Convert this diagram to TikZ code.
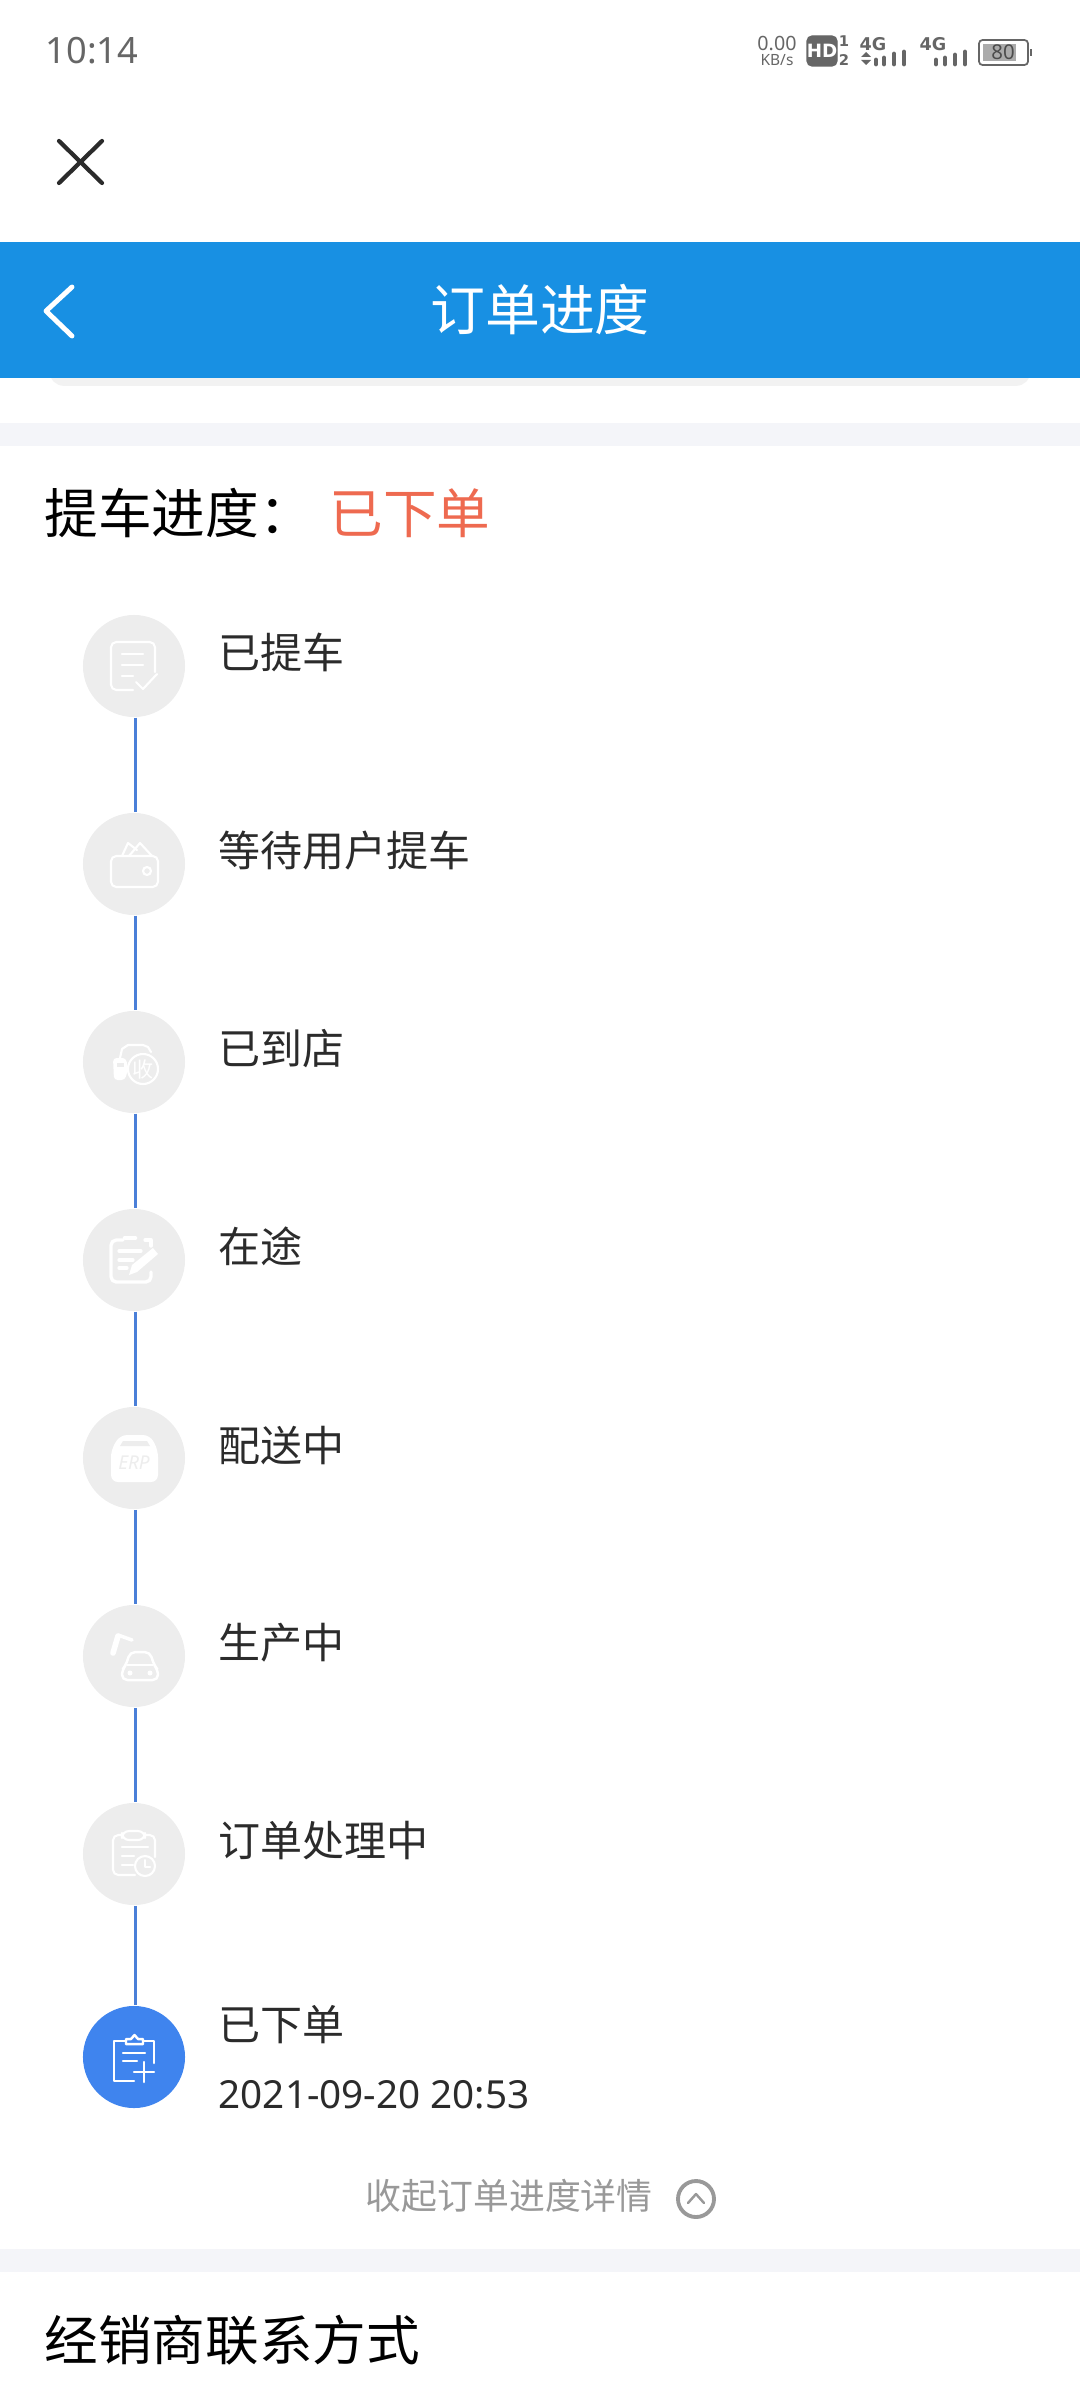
\documentclass[tikz,border=0pt]{standalone}
\usepackage{fontspec}
\setmainfont{Noto Sans CJK SC}
\newfontfamily\latinfont{Noto Sans}
\newfontfamily\statfont{DejaVu Sans}
\usetikzlibrary{calc}
\definecolor{barblue}{HTML}{1890E3}
\definecolor{lineblue}{HTML}{4A7FD8}
\definecolor{doneblue}{HTML}{3F84EE}
\definecolor{bandgray}{HTML}{F4F5F9}
\definecolor{circlegray}{HTML}{EDEDED}
\definecolor{statusgray}{HTML}{666666}
\definecolor{hintgray}{HTML}{999999}
\definecolor{orderred}{HTML}{EE6A50}
\definecolor{darktext}{HTML}{2B2B2B}
\tikzset{
  txt/.style = {inner sep = 0pt, anchor = west},
  steptext/.style = {txt, text = darktext, font = \fontsize{11.95}{14}\selectfont},
  headtext/.style = {txt, text = black, font = \fontsize{15.25}{18}\selectfont},
  stat/.style = {inner sep = 0pt, text = statusgray},
  stepcircle/.style = {circle, fill = circlegray, minimum size = 1.02cm, inner sep = 0pt},
  stepline/.style = {lineblue, line width = 0.9pt},
  icon/.style = {white, line width = 0.6pt, line cap = round, line join = round},
  thickicon/.style = {icon, line width = 0.95pt},
  sigbar/.style = {statusgray, line width = 1.4pt, line cap = round}
}

\begin{document}
\begin{tikzpicture}[x = 0.01cm, y = -0.01cm]
\useasboundingbox (0,0) rectangle (1080,2400);
% status bar
\node (clock) [stat] at (92,51) {\latinfont\fontsize{10.3}{12}\selectfont 10:14};
\node (speed) [stat] at (777,44) {\latinfont\fontsize{5.6}{7}\selectfont 0.00};
\node (speedunit) [stat] at (777,60) {\latinfont\fontsize{4.4}{6}\selectfont KB/s};
\draw [fill = statusgray, statusgray, rounded corners = 1.5pt] (807,36) rectangle (837,66);
\node (hd) [stat, text = white] at (822,51) {\statfont\bfseries\fontsize{5.2}{6}\selectfont HD};
\node (simone) [stat] at (844,41) {\statfont\bfseries\fontsize{4.2}{5}\selectfont 1};
\node (simtwo) [stat] at (844,60) {\statfont\bfseries\fontsize{4.2}{5}\selectfont 2};
\node (fourga) [stat] at (873,44) {\statfont\bfseries\fontsize{5.0}{6}\selectfont 4G};
\fill [statusgray] (861,57) -- (871,57) -- (866,52) -- cycle;
\fill [statusgray] (861,60) -- (871,60) -- (866,65) -- cycle;
\draw [sigbar] (876,60) -- (876,64); \draw [sigbar] (884,58) -- (884,64);
\draw [sigbar] (894,54) -- (894,64); \draw [sigbar] (904,52) -- (904,64);
\node (fourgb) [stat] at (933,44) {\statfont\bfseries\fontsize{5.0}{6}\selectfont 4G};
\draw [sigbar] (936,60) -- (936,64); \draw [sigbar] (945,58) -- (945,64);
\draw [sigbar] (955,55) -- (955,64); \draw [sigbar] (965,52) -- (965,64);
\draw [statusgray, line width = 0.5pt, rounded corners = 1pt] (979,40) rectangle (1028,65);
\fill [black!33] (983,44) rectangle (1016,61);
\fill [statusgray] (1030,49) rectangle (1032,56);
\node (battery) [stat, text = black!70] at (1003,52) {\latinfont\fontsize{5.8}{7}\selectfont 80};
% close and title bar
\draw [darktext, line width = 1.2pt, line cap = round] (59,141) -- (102,183);
\draw [darktext, line width = 1.2pt, line cap = round] (102,141) -- (59,183);
\draw [rounded corners = 4pt, fill = white, black!5, line width = 0.5pt] (50,360) rectangle (1030,385);
\fill [barblue] (0,242) rectangle (1080,378);
\draw [white, line width = 1.4pt, line cap = round, line join = round] (72,287) -- (46,311) -- (72,336);
\node (title) [inner sep = 0pt, text = white, font = \fontsize{15.6}{18}\selectfont] at (540,310) {订单进度};
% bands
\fill [bandgray] (0,423) rectangle (1080,446);
\fill [bandgray] (0,2249) rectangle (1080,2272);
% heading
\node (pickup) [headtext] at (44,513) {提车进度：};
\node (state) [headtext, text = orderred] at (329,513) {已下单};
% steps
\node (c1) [stepcircle] at (134,666) {};
\node (c2) [stepcircle] at (134,864) {};
\node (c3) [stepcircle] at (134,1062) {};
\node (c4) [stepcircle] at (134,1260) {};
\node (c5) [stepcircle] at (134,1458) {};
\node (c6) [stepcircle] at (134,1656) {};
\node (c7) [stepcircle] at (134,1854) {};
\node (c8) [stepcircle, fill = doneblue] at (134,2057) {};
\draw [stepline] ([xshift = 0.013cm]c1.south) -- ([xshift = 0.013cm]c2.north);
\draw [stepline] ([xshift = 0.013cm]c2.south) -- ([xshift = 0.013cm]c3.north);
\draw [stepline] ([xshift = 0.013cm]c3.south) -- ([xshift = 0.013cm]c4.north);
\draw [stepline] ([xshift = 0.013cm]c4.south) -- ([xshift = 0.013cm]c5.north);
\draw [stepline] ([xshift = 0.013cm]c5.south) -- ([xshift = 0.013cm]c6.north);
\draw [stepline] ([xshift = 0.013cm]c6.south) -- ([xshift = 0.013cm]c7.north);
\draw [stepline] ([xshift = 0.013cm]c7.south) -- ([xshift = 0.013cm]c8.north);
\node (t1) [steptext] at (218,652) {已提车};
\node (t2) [steptext] at (218,851) {等待用户提车};
\node (t3) [steptext] at (218,1049) {已到店};
\node (t4) [steptext] at (218,1246) {在途};
\node (t5) [steptext] at (218,1446) {配送中};
\node (t6) [steptext] at (218,1643) {生产中};
\node (t7) [steptext] at (218,1841) {订单处理中};
\node (t8) [steptext] at (218,2025) {已下单};
\node (when) [steptext] at (218,2095) {\latinfont\fontsize{11}{13}\selectfont 2021-09-20 20:53};
% icon 1
\draw [icon, rounded corners = 1.5pt] (155,672) -- (155,642) -- (111,642) -- (111,690) -- (133,690);
\draw [icon] (122,654) -- (143,654); \draw [icon] (122,665) -- (143,665); \draw [icon] (122,676) -- (133,676);
\draw [icon] (136,682) -- (143,689) -- (157,674);
% icon 2
\draw [icon, rounded corners = 1.5pt] (111,856) rectangle (158,887);
\draw [icon] (122,856) -- (128,843) -- (137,850); \draw [icon] (129,856) -- (140,843) -- (152,856);
\draw [icon] (147,871) circle (4);
% icon 3
\fill [white, rounded corners = 1pt] (113,1058) -- (126,1058) -- (128,1069) -- (125,1080) -- (114,1080) -- cycle;
\fill [circlegray] (117,1063) rectangle (124,1067);
\draw [icon] (120,1058) -- (122,1049) -- (128,1045) -- (143,1045) -- (148,1047) -- (151,1052);
\draw [icon, fill = circlegray] (143,1069) circle (15);
\node (shou) [inner sep = 0pt, text = white, font = \fontsize{6}{7}\selectfont] at (143,1069) {收};
% icon 4
\draw [thickicon, rounded corners = 1.5pt] (123,1240) -- (111,1240) -- (111,1282) -- (151,1282) -- (151,1272);
\draw [thickicon] (145,1240) -- (151,1240) -- (151,1246);
\draw [thickicon, line width = 1.3pt] (125,1238) -- (135,1238);
\draw [thickicon] (119,1251) -- (141,1251); \draw [thickicon] (119,1260) -- (133,1260); \draw [thickicon] (119,1268) -- (127,1268);
\fill [white] (129,1275) -- (132,1265) -- (153,1248) -- (158,1254) -- (137,1272) -- cycle;
% icon 5
\fill [white, rounded corners = 2pt] (120,1435) -- (150,1435) -- (158,1450) -- (158,1482) -- (111,1482) -- (111,1450) -- cycle;
\fill [circlegray] (123,1441) -- (147,1441) -- (150,1446) -- (120,1446) -- cycle;
\node (erp) [inner sep = 0pt, text = circlegray, font = \latinfont\itshape\bfseries\fontsize{5.4}{7}\selectfont] at (134,1463) {ERP};
% icon 6
\draw [thickicon, line width = 1.6pt] (113,1653) -- (118,1636);
\draw [thickicon, line width = 1pt] (118,1635) -- (132,1640);
\draw [icon, line width = 0.7pt, rounded corners = 1.5pt] (126,1665) -- (130,1652) -- (150,1652) -- (154,1665) -- (158,1670) -- (158,1680) -- (122,1680) -- (122,1670) -- cycle;
\draw [icon] (127,1665) -- (153,1665);
\fill [white] (130,1673) circle (2.5); \fill [white] (150,1673) circle (2.5);
% icon 7
\draw [icon, rounded corners = 1.5pt] (122,1835) -- (113,1835) -- (113,1875) -- (135,1875);
\draw [icon, rounded corners = 1.5pt] (145,1835) -- (155,1835) -- (155,1857);
\draw [icon, rounded corners = 2pt] (122,1831) rectangle (145,1840);
\draw [icon] (122,1847) -- (148,1847); \draw [icon] (122,1856) -- (134,1856); \draw [icon] (122,1865) -- (133,1865);
\draw [icon] (145,1866) circle (10);
\draw [icon] (145,1860) -- (145,1867) -- (150,1867);
% icon 8
\draw [icon, line width = 0.7pt] (126,2041) -- (114,2041) -- (114,2081) -- (134,2081);
\draw [icon, line width = 0.7pt] (143,2041) -- (154,2041) -- (154,2063);
\draw [icon, line width = 0.7pt] (126,2044) -- (126,2039) -- (131,2039) -- (134.5,2035) -- (138,2039) -- (143,2039) -- (143,2044) -- cycle;
\draw [icon, line width = 0.7pt] (123,2053) -- (145,2053); \draw [icon, line width = 0.7pt] (123,2061) -- (137,2061);
\draw [icon, line width = 0.7pt] (134,2072) -- (154,2072); \draw [icon, line width = 0.7pt] (144,2062) -- (144,2082);
% collapse
\node (collapse) [txt, text = hintgray, font = \fontsize{10.2}{12}\selectfont] at (365,2196) {收起订单进度详情};
\node (arrow) [circle, draw = hintgray, line width = 1.1pt, minimum size = 0.36cm, inner sep = 0pt] at (696,2199) {};
\draw [hintgray, line width = 0.7pt, line cap = round, line join = round] (688,2203) -- (696,2194) -- (704,2203);
% dealer
\node (dealer) [headtext] at (44,2340) {经销商联系方式};
\end{tikzpicture}
\end{document}
